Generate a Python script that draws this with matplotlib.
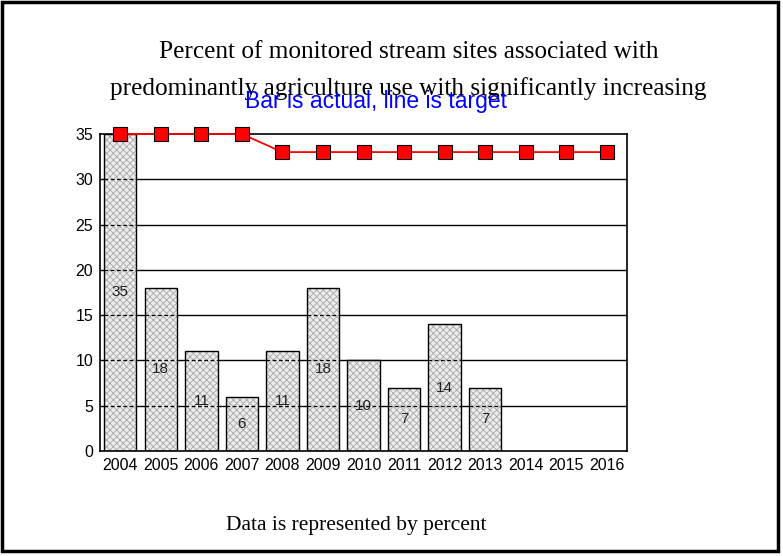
import matplotlib.pyplot as plt
from matplotlib.patches import Rectangle
import numpy as np

years = ['2004', '2005', '2006', '2007', '2008', '2009', '2010',
         '2011', '2012', '2013', '2014', '2015', '2016']
actual = [35, 18, 11, 6, 11, 18, 10, 7, 14, 7]
target = [35, 35, 35, 35, 33, 33, 33, 33, 33, 33, 33, 33, 33]
y_ticks = [0, 5, 10, 15, 20, 25, 30, 35]

fig = plt.figure(figsize=(7.83, 5.56), dpi=100)
ax = fig.add_axes([0.1277, 0.189, 0.6731, 0.570])

x = np.arange(len(years))
xa = x[:len(actual)]
w = 0.8

# gridlines behind bars
for yv in y_ticks[1:-1]:
    ax.axhline(yv, color='black', lw=1, zorder=1)

# hatched fill, then outline
plt.rcParams['hatch.color'] = '#a8a8a8'
plt.rcParams['hatch.linewidth'] = 0.6
ax.bar(xa, actual, width=w, color='#ececec', edgecolor='#a8a8a8',
       hatch='xxxxx', linewidth=0, zorder=2)
ax.bar(xa, actual, width=w, fill=False, edgecolor='black', linewidth=1, zorder=3)

# gridlines seen through the bars appear dashed
for xi, v in zip(xa, actual):
    for yv in y_ticks[1:-1]:
        if yv < v:
            ax.plot([xi - w / 2, xi + w / 2], [yv, yv], color='black',
                    lw=0.9, ls=(0, (3, 2)), zorder=4)

for xi, v in zip(xa, actual):
    ax.text(xi, v / 2, str(v), ha='center', va='center', fontsize=11,
            family='Liberation Sans', color='#222222', zorder=5)

ax.plot(x, target, color='red', lw=1.3, marker='s', markersize=10,
        markerfacecolor='red', markeredgecolor='black', markeredgewidth=0.8,
        zorder=6, clip_on=False)

ax.set_xlim(-0.5, len(years) - 0.5)
ax.set_ylim(0, 35)
ax.set_yticks(y_ticks)
ax.set_xticks(x)
ax.set_xticklabels(years)
ax.tick_params(length=0, labelsize=11.5, pad=5)
for lab in ax.get_xticklabels() + ax.get_yticklabels():
    lab.set_family('Liberation Sans')
for s in ax.spines.values():
    s.set_linewidth(1.2)
    s.set_color('black')

fig.text(0.522, 0.907, 'Percent of monitored stream sites associated with',
         ha='center', va='center', fontsize=18.2, family='Liberation Serif',
         color='black')
fig.text(0.522, 0.840, 'predominantly agriculture use with significantly increasing',
         ha='center', va='center', fontsize=18.2, family='Liberation Serif',
         color='black')
fig.text(0.480, 0.817, 'Bar is actual, line is target', ha='center', va='center',
         fontsize=16.5, family='Liberation Sans', color='blue')
fig.text(0.455, 0.054, 'Data is represented by percent', ha='center', va='center',
         fontsize=15.5, family='Liberation Serif', color='black')

fig.patches.append(Rectangle((0.003, 0.009), 0.991, 0.987, transform=fig.transFigure,
                             fill=False, edgecolor='black', linewidth=2.5))

fig.savefig('out.png', dpi=100)
